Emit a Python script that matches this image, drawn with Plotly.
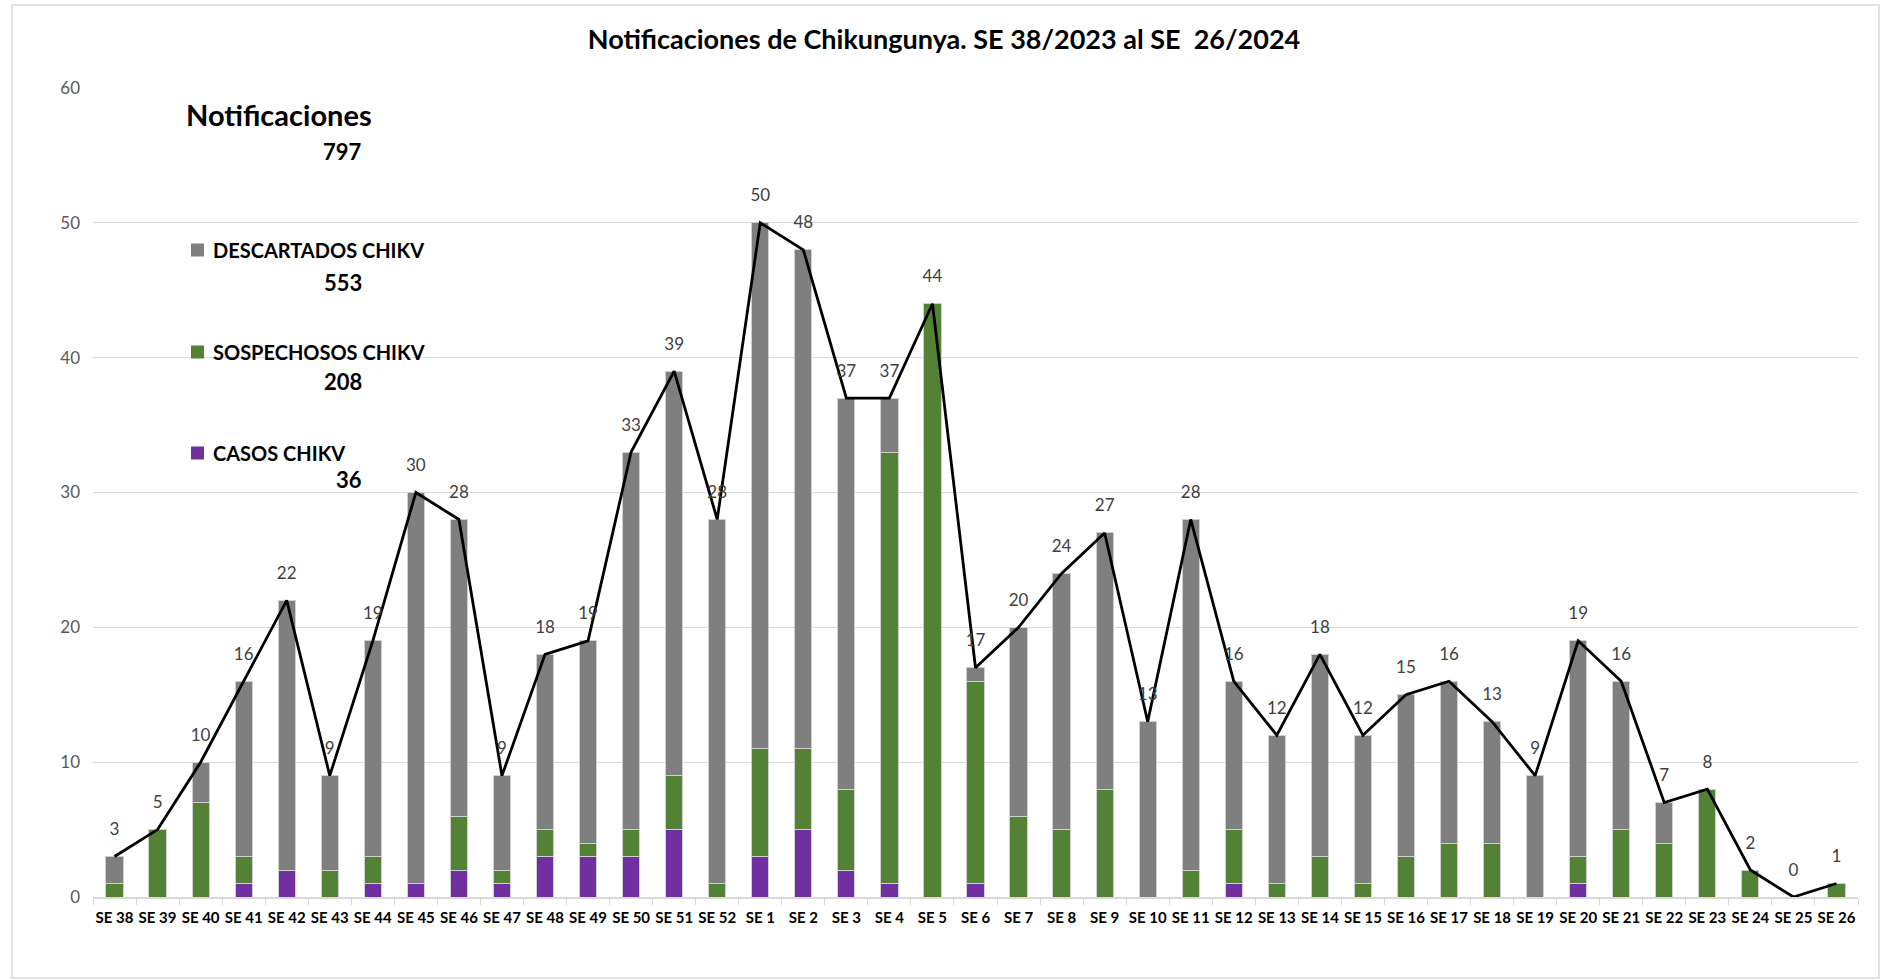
import plotly.graph_objects as go

# semanas epidemiologicas SE 38/2023 .. SE 26/2024
semanas = [f"SE {w}" for w in range(38, 53)] + [f"SE {w}" for w in range(1, 27)]

casos = [0, 0, 0, 1, 2, 0, 1, 1, 2, 1, 3, 3, 3, 5, 0,
         3, 5, 2, 1, 0, 1, 0, 0, 0, 0, 0, 1, 0, 0, 0, 0, 0, 0, 0, 1, 0, 0, 0, 0, 0, 0]
sospechosos = [1, 5, 7, 2, 0, 2, 2, 0, 4, 1, 2, 1, 2, 4, 1,
               8, 6, 6, 32, 44, 15, 6, 5, 8, 0, 2, 4, 1, 3, 1, 3, 4, 4, 0, 2, 5, 4, 8, 2, 0, 1]
descartados = [2, 0, 3, 13, 20, 7, 16, 29, 22, 7, 13, 15, 28, 30, 27,
               39, 37, 29, 4, 0, 1, 14, 19, 19, 13, 26, 11, 11, 15, 11, 12, 12, 9, 9, 16, 11, 3, 0, 0, 0, 0]

totales = [c + s + d for c, s, d in zip(casos, sospechosos, descartados)]

GRIS = "#7f7f7f"
VERDE = "#538135"
MORADO = "#7030a0"
FONT = "Lato, Roboto, Liberation Sans"

W, H = 1888, 979
L, R, T, B = 93, 30, 88, 82


def px(x):
    return (x - L) / (W - L - R)


def py(y):
    return (H - B - y) / (H - T - B)


fig = go.Figure()
for nombre, vals, color in [("CASOS CHIKV", casos, MORADO),
                            ("SOSPECHOSOS CHIKV", sospechosos, VERDE),
                            ("DESCARTADOS CHIKV", descartados, GRIS)]:
    fig.add_trace(go.Bar(x=semanas, y=vals, name=nombre, marker_color=color,
                         marker_line=dict(color="#d0d0d0", width=1)))

fig.add_trace(go.Scatter(x=semanas, y=totales, mode="lines",
                         line=dict(color="black", width=2.8)))
fig.add_trace(go.Scatter(x=semanas, y=totales, mode="markers+text",
                         text=[str(t) for t in totales], textposition="top center",
                         textfont=dict(size=17, color="#404040", family=FONT),
                         marker=dict(size=26, color="rgba(0,0,0,0)")))

anots = [
    dict(text="<b>Notificaciones</b>", x=px(184), y=py(115), xanchor="left", size=29),
    dict(text=f"<b>{sum(totales)}</b>", x=px(364), y=py(151), xanchor="right", size=22),
    dict(text="<b>DESCARTADOS CHIKV</b>", x=px(211), y=py(250), xanchor="left", size=20),
    dict(text=f"<b>{sum(descartados)}</b>", x=px(364), y=py(282), xanchor="right", size=22),
    dict(text="<b>SOSPECHOSOS CHIKV</b>", x=px(211), y=py(352), xanchor="left", size=20),
    dict(text=f"<b>{sum(sospechosos)}</b>", x=px(364), y=py(381), xanchor="right", size=22),
    dict(text="<b>CASOS CHIKV</b>", x=px(211), y=py(453), xanchor="left", size=20),
    dict(text=f"<b>{sum(casos)}</b>", x=px(364), y=py(479), xanchor="right", size=22),
]
for a in anots:
    fig.add_annotation(text=a["text"], x=a["x"], y=a["y"], xref="paper", yref="paper",
                       xanchor=a["xanchor"], yanchor="middle", showarrow=False,
                       font=dict(size=a["size"], color="black", family=FONT))

for yc, color in [(250, GRIS), (352, VERDE), (453, MORADO)]:
    fig.add_shape(type="rect", xref="paper", yref="paper",
                  x0=px(191), x1=px(204), y0=py(yc + 6.5), y1=py(yc - 6.5),
                  fillcolor=color, line_width=0)

# marco del grafico
fig.add_shape(type="rect", xref="paper", yref="paper",
              x0=px(12), x1=px(1879), y0=py(978), y1=py(5),
              line=dict(color="#d9d9d9", width=1.5), fillcolor="rgba(0,0,0,0)", layer="below")

fig.update_layout(
    width=W, height=H,
    margin=dict(l=L, r=R, t=T, b=B),
    barmode="stack", bargap=0.6,
    showlegend=False,
    plot_bgcolor="white", paper_bgcolor="white",
    font=dict(family=FONT),
    title=dict(text="<b>Notificaciones de Chikungunya. SE 38/2023 al SE  26/2024</b>",
               x=0.5, xref="container", xanchor="center",
               y=1 - 40 / H, yref="container", yanchor="middle",
               font=dict(size=27, color="black", family=FONT)),
)
fig.update_xaxes(type="category", range=[-0.5, len(semanas) - 0.5],
                 showline=True, linecolor="#d9d9d9", linewidth=1.5,
                 ticks="outside", tickson="boundaries", ticklen=6, tickcolor="#d9d9d9",
                 tickfont=dict(size=15, color="black", family=FONT, weight="bold"),
                 tickangle=0, ticklabelstandoff=6)
fig.update_yaxes(range=[0, 60], dtick=10, showgrid=True, gridcolor="#d9d9d9", gridwidth=1,
                 zeroline=False, tickfont=dict(size=17, color="#595959", family=FONT),
                 ticklabelstandoff=12)

fig.write_html("out.html", config={"displayModeBar": False},
               post_script="document.body.style.margin='0';")
